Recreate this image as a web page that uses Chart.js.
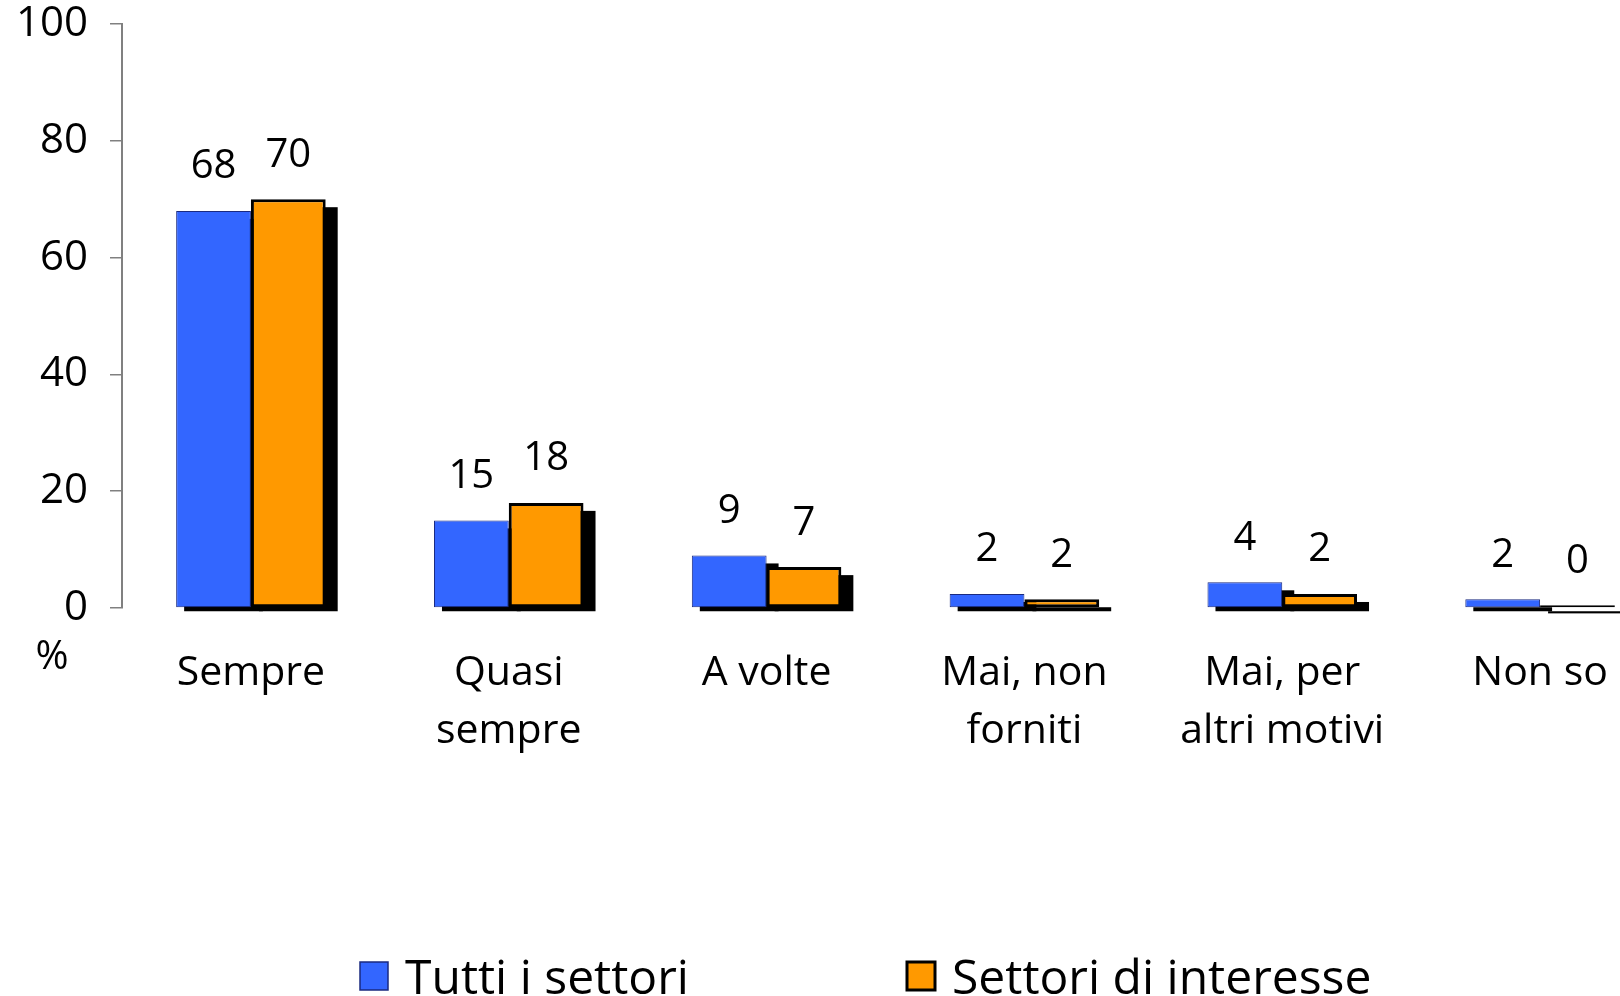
<!DOCTYPE html>
<html>
<head>
<meta charset="utf-8">
<script src="https://cdn.jsdelivr.net/npm/chart.js@4.4.1/dist/chart.umd.min.js"></script>
<style>
    html, body { margin: 0; padding: 0; background: #fff; overflow: hidden; }
    #wrap { width: 1700px; height: 996px; }
</style>
</head>
<body>
<div id="wrap"><canvas id="chartRisposte"></canvas></div>
<script>
// DATA
const categorie = [
    "Sempre",
    ["Quasi", "sempre"],
    "A volte",
    ["Mai, non", "forniti"],
    ["Mai, per", "altri motivi"],
    "Non so",
];
const tuttiSettori = [68, 15, 9, 2.4, 4.4, 1.5];
const settoriInteresse = [70, 18, 7, 1.5, 2.4, 0.45];
const tickY = [0, 20, 40, 60, 80, 100];
const serieNomi = ["Tutti i settori", "Settori di interesse"];

Chart.defaults.font.family = "'Open Sans', 'Noto Sans', sans-serif";
Chart.defaults.color = "#000";

// ombra nera dietro le barre (disegnata prima dei dataset)
const ombra = {
    id: "ombra",
    beforeDatasetsDraw(chart) {
        const c = chart.ctx;
        c.save();
        c.fillStyle = "#000";
        chart.data.datasets.forEach((ds, i) => {
            chart.getDatasetMeta(i).data.forEach((bar) => {
                const left = bar.x - bar.width / 2;
                const top = Math.min(bar.y, bar.base - 1);
                c.fillRect(left + 8, top + 8, bar.width + 4, bar.base - top - 4);
            });
        });
        c.restore();
    },
};

// etichette, simbolo % e legenda
const testi = {
    id: "testi",
    afterDraw(chart) {
        const c = chart.ctx;
        c.save();
        c.fillStyle = "#000";
        c.font = "40px 'Open Sans'";
        c.textAlign = "center";
        c.textBaseline = "middle";
        chart.data.datasets.forEach((ds, i) => {
            chart.getDatasetMeta(i).data.forEach((bar, j) => {
                c.fillText(String(Math.round(ds.data[j])), bar.x, bar.y - 44);
            });
        });
        c.fillText("%", 52, 658);

        // legenda
        const voci = [
            { x: 360, fill: "#3366FF", stroke: "#1a2a80", lw: 1.5 },
            { x: 907, fill: "#FF9900", stroke: "#000", lw: 3 },
        ];
        c.font = "48px 'Open Sans'";
        c.textAlign = "left";
        c.textBaseline = "alphabetic";
        voci.forEach((v, i) => {
            c.fillStyle = v.fill;
            c.fillRect(v.x, 962, 28, 28);
            c.lineWidth = v.lw;
            c.strokeStyle = v.stroke;
            c.strokeRect(v.x, 962, 28, 28);
            c.fillStyle = "#000";
            c.fillText(serieNomi[i], v.x + 45, 994);
        });
        c.restore();
    },
};

const ctx = document.getElementById("chartRisposte");
new Chart(ctx, {
    type: "bar",
    data: {
        labels: categorie,
        datasets: [
            {
                label: serieNomi[0],
                data: tuttiSettori,
                backgroundColor: "#3366FF",
                borderColor: "#1a2a80",
                borderWidth: 1,
                borderSkipped: false,
            },
            {
                label: serieNomi[1],
                data: settoriInteresse,
                backgroundColor: "#FF9900",
                borderColor: "#000",
                borderWidth: 3,
                borderSkipped: false,
            },
        ],
    },
    options: {
        responsive: true,
        maintainAspectRatio: false,
        animation: false,
        devicePixelRatio: 1,
        categoryPercentage: 0.58,
        barPercentage: 1,
        layout: {
            padding: { top: 24, right: 31, left: 0, bottom: 0 },
        },
        plugins: {
            legend: { display: false },
            tooltip: { enabled: false },
        },
        scales: {
            x: {
                grid: { display: false, drawTicks: false },
                border: { display: false },
                ticks: {
                    font: { size: 41, lineHeight: 1.4 },
                    padding: 37,
                    maxRotation: 0,
                    autoSkip: false,
                },
                afterFit(scale) {
                    scale.height = 388;
                    scale.paddingLeft = 0;
                    scale.paddingRight = 0;
                },
            },
            y: {
                min: tickY[0],
                max: tickY[tickY.length - 1],
                afterBuildTicks(scale) {
                    scale.ticks = tickY.map((v) => ({ value: v }));
                },
                grid: {
                    drawOnChartArea: false,
                    tickLength: 12,
                    color: "#808080",
                    lineWidth: 1.5,
                },
                border: { color: "#808080", width: 2 },
                ticks: {
                    font: { size: 42 },
                    padding: 22,
                },
                afterFit(scale) {
                    scale.width = 122;
                    scale.paddingTop = 0;
                    scale.paddingBottom = 0;
                },
            },
        },
    },
    plugins: [ombra, testi],
});
</script>
</body>
</html>
